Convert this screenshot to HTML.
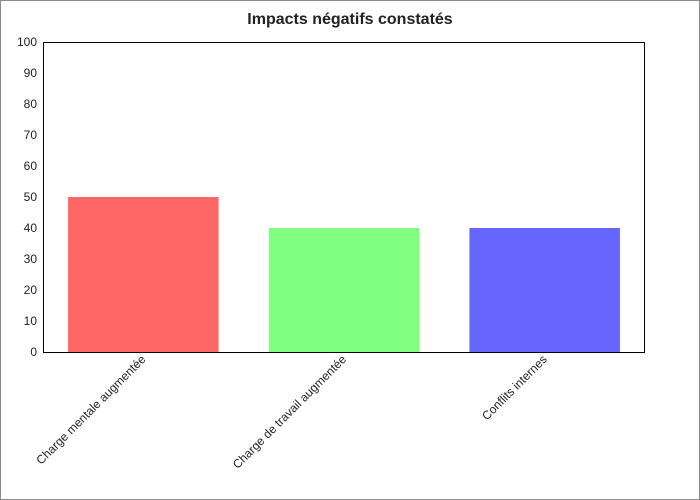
<!DOCTYPE html>
<html><head><meta charset="utf-8"><style>
html,body{margin:0;padding:0;background:#fff}
#wrap{width:698px;height:498px;border:1px solid #8c8c8c;position:relative}
svg{position:absolute;left:-1px;top:-1px}
text{font-family:"Liberation Sans","DejaVu Sans",sans-serif}
</style></head><body>
<div id="wrap">
<svg id="chart" width="700" height="500"></svg>
</div>
<script>
const categories = ["Charge mentale augmentée", "Charge de travail augmentée", "Conflits internes"];
const values = [50, 40, 40];
const colors = ["#ff6666", "#80ff80", "#6666ff"];
const yTicks = [0,10,20,30,40,50,60,70,80,90,100];

const NS="http://www.w3.org/2000/svg";
const svg=document.getElementById('chart');
const L=43,R=645,T=42,B=352,yMax=100;
const y=v=>B-(v/yMax)*(B-T);
const band=(R-L)/categories.length;
const x=i=>L+band*i;
function mk(tag,attrs,txt){const e=document.createElementNS(NS,tag);for(const k in attrs)e.setAttribute(k,attrs[k]);if(txt!==undefined)e.textContent=txt;svg.appendChild(e);return e;}

const title=mk('text',{x:350,y:24,'text-anchor':'middle','font-size':16,'font-weight':'bold',fill:'#222'},'Impacts négatifs constatés');



yTicks.forEach(t=>{
  const lb=mk('text',{x:37,y:y(t)+4,'text-anchor':'end','font-size':12,fill:'#222'},t);
  
  
});

categories.forEach((c,i)=>{
  const bw=band*0.75;
  const bx=x(i)+(band-bw)/2;
  const r=mk('rect',{x:bx,y:y(values[i]),width:bw,height:B-y(values[i]),fill:colors[i]});
  
  
  const cx=x(i)+band/2+3, ty=B+8;
  const lb=mk('text',{x:cx,y:ty,'text-anchor':'end','font-size':12,fill:'#222',transform:`rotate(-45 ${cx} ${ty})`},c);
  
  
});

const frame=mk('rect',{x:L+0.5,y:T+0.5,width:R-L-1,height:B-T,fill:'none',stroke:'#000','stroke-width':1});


</script>
</body></html>
